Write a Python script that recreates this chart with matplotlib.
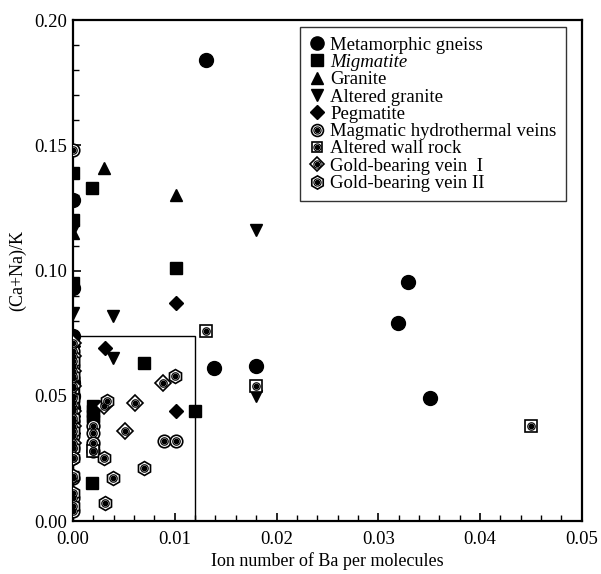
import matplotlib
matplotlib.use("Agg")
import matplotlib.pyplot as plt
from matplotlib.legend_handler import HandlerTuple
from matplotlib.lines import Line2D
from matplotlib.patches import Rectangle

plt.rcParams['font.family'] = ['Liberation Serif', 'DejaVu Serif']

# ---------------- data ----------------
gneiss_x = [0.0131, 0.0329, 0.0319, 0.0351, 0.0139, 0.0180, 0, 0, 0, 0, 0, 0]
gneiss_y = [0.184, 0.0955, 0.079, 0.049, 0.061, 0.062, 0.128, 0.093, 0.074, 0.055, 0.050, 0.045]

migm_x = [0.0019, 0.0101, 0.0070, 0.0120, 0.0019, 0.002, 0.002, 0.002, 0.002, 0.002,
          0, 0, 0, 0, 0, 0, 0, 0, 0]
migm_y = [0.133, 0.101, 0.063, 0.044, 0.015, 0.046, 0.044, 0.042, 0.040, 0.030,
          0.139, 0.120, 0.095, 0.065, 0.058, 0.052, 0.047, 0.043, 0.038]

granite_x = [0.0030, 0.0101, 0, 0]
granite_y = [0.141, 0.130, 0.115, 0.052]

altgr_x = [0.0180, 0.0039, 0.0039, 0.0180, 0, 0, 0, 0]
altgr_y = [0.116, 0.082, 0.065, 0.050, 0.116, 0.083, 0.060, 0.048]

pegm_x = [0.0101, 0.0031, 0.0101, 0, 0, 0, 0]
pegm_y = [0.087, 0.069, 0.044, 0.070, 0.056, 0.042, 0.035]

magm_x = [0.0089, 0.0101, 0.002, 0.002, 0.002, 0.002,
          0, 0, 0, 0, 0, 0, 0, 0, 0, 0, 0, 0, 0]
magm_y = [0.032, 0.032, 0.038, 0.035, 0.031, 0.028,
          0.148, 0.068, 0.062, 0.057, 0.050, 0.045, 0.040, 0.034, 0.029, 0.025, 0.017, 0.009, 0.004]

wall_x = [0.0131, 0.0180, 0.0450, 0.002, 0, 0]
wall_y = [0.076, 0.054, 0.038, 0.028, 0.053, 0.047]

gold1_x = [0.0088, 0.0061, 0.0051, 0.0030, 0, 0, 0, 0, 0, 0, 0]
gold1_y = [0.055, 0.047, 0.036, 0.046, 0.071, 0.066, 0.060, 0.054, 0.044, 0.038, 0.031]

gold2_x = [0.0100, 0.0033, 0.0030, 0.0039, 0.0031, 0.0070,
           0, 0, 0, 0, 0, 0, 0, 0, 0, 0]
gold2_y = [0.058, 0.048, 0.025, 0.017, 0.007, 0.021,
           0.064, 0.058, 0.049, 0.041, 0.036, 0.029, 0.025, 0.018, 0.011, 0.006]

box_x = [0.0, 0.012]
box_y = [0.0, 0.074]

labels = ["Metamorphic gneiss", "Migmatite", "Granite", "Altered granite", "Pegmatite",
          "Magmatic hydrothermal veins", "Altered wall rock",
          "Gold-bearing vein  I", "Gold-bearing vein II"]

# ---------------- plot ----------------
fig = plt.figure(figsize=(6.01, 5.74), dpi=100)
ax = fig.add_axes([0.1215, 0.0923, 0.8465, 0.8727])

ax.add_patch(Rectangle((box_x[0], box_y[0]), box_x[1] - box_x[0], box_y[1] - box_y[0],
                       fill=False, edgecolor='black', lw=1.0, zorder=1))

def filled(x, y, m, s):
    ax.plot(x, y, ls='none', marker=m, ms=s, mfc='black', mec='black', zorder=3)
    return Line2D([], [], ls='none', marker=m, ms=s * 0.95, mfc='black', mec='black')

def ringed(x, y, m, s, dot=3.2):
    ax.plot(x, y, ls='none', marker=m, ms=s, mfc='white', mec='black', mew=1.2, zorder=4)
    ax.plot(x, y, ls='none', marker='o', ms=dot + 2.2, mfc='white', mec='black', mew=0.8, zorder=5)
    ax.plot(x, y, ls='none', marker='o', ms=dot, mfc='black', mec='black', zorder=6)
    h1 = Line2D([], [], ls='none', marker=m, ms=s * 0.95, mfc='white', mec='black', mew=1.2)
    h2 = Line2D([], [], ls='none', marker='o', ms=dot + 2.0, mfc='white', mec='black', mew=0.8)
    h3 = Line2D([], [], ls='none', marker='o', ms=dot * 0.9, mfc='black', mec='black')
    return (h1, h2, h3)

handles = []
handles.append(filled(gneiss_x, gneiss_y, 'o', 10))
handles.append(filled(migm_x, migm_y, 's', 8.5))
handles.append(filled(granite_x, granite_y, '^', 9))
handles.append(filled(altgr_x, altgr_y, 'v', 9))
handles.append(filled(pegm_x, pegm_y, 'D', 7.5))
handles.append(ringed(magm_x, magm_y, 'o', 9))
handles.append(ringed(wall_x, wall_y, 's', 8))
handles.append(ringed(gold1_x, gold1_y, 'D', 8))
handles.append(ringed(gold2_x, gold2_y, 'h', 10))

leg = ax.legend(handles, labels, loc='upper right', bbox_to_anchor=(0.9686, 0.986),
                handler_map={tuple: HandlerTuple(ndivide=1, pad=0)},
                fontsize=13.5, frameon=True, fancybox=False, edgecolor='black',
                handlelength=0.8, handletextpad=0.3, labelspacing=0.01,
                borderpad=0.5, borderaxespad=0.0)
leg.get_frame().set_linewidth(1.0)
leg.get_texts()[1].set_style('italic')

ax.set_xlim(0, 0.05)
ax.set_ylim(0, 0.20)
ax.set_xticks([0, 0.01, 0.02, 0.03, 0.04, 0.05])
ax.set_xticklabels(["0.00", "0.01", "0.02", "0.03", "0.04", "0.05"])
ax.set_yticks([0, 0.05, 0.10, 0.15, 0.20])
ax.set_yticklabels(["0.00", "0.05", "0.10", "0.15", "0.20"])
ax.set_xticks([i * 0.002 for i in range(26)], minor=True)
ax.set_yticks([i * 0.01 for i in range(21)], minor=True)
ax.tick_params(which='both', direction='in', top=False, right=False, labelsize=13.5)
ax.tick_params(axis='x', which='major', pad=7)
ax.tick_params(axis='y', which='major', pad=4)
ax.tick_params(which='major', length=6, width=1.2)
ax.tick_params(which='minor', length=4, width=1.0)
for sp in ax.spines.values():
    sp.set_linewidth(1.6)

ax.set_xlabel("Ion number of Ba per molecules", fontsize=13, labelpad=3)
ax.set_ylabel("(Ca+Na)/K", fontsize=13, labelpad=6)

fig.savefig("out.png", dpi=100)
